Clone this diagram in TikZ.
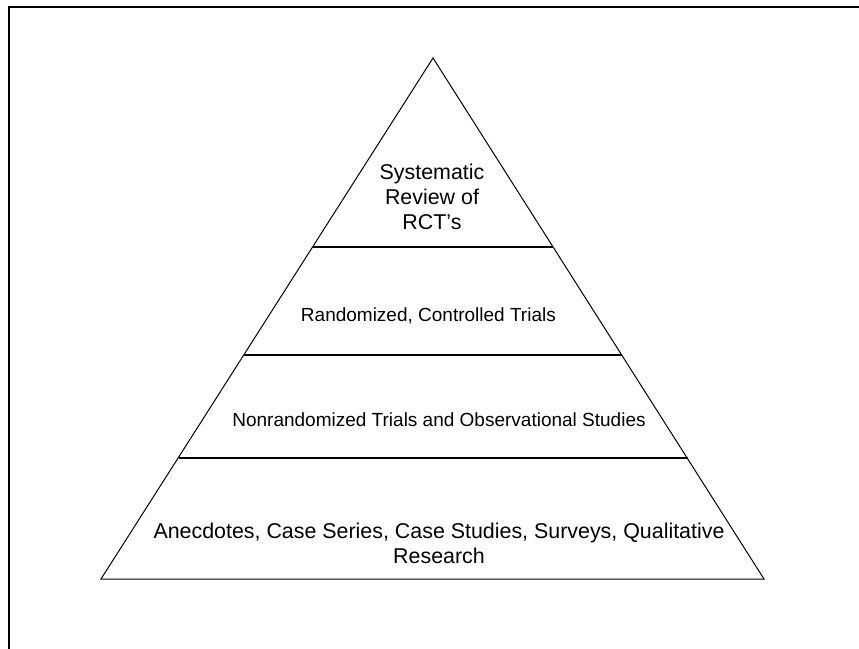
\documentclass[tikz,border=0pt]{standalone}
\usepackage{fontspec}
\setmainfont{Liberation Sans}
\begin{document}
\begin{tikzpicture}[x=1pt,y=-1pt,
  tierlabel/.style={align=center,anchor=base,inner sep=0pt},
  bigtext/.style={font=\fontsize{21.4}{24.8}\selectfont},
  smalltext/.style={font=\fontsize{19}{22}\selectfont}]
  % page, frame runs off at right and bottom
  \clip (0,0) rectangle (859,648);
  \draw[line width=2pt] (9,6.7) rectangle (900,700);

  % pyramid outline
  \coordinate (apex) at (433,58);
  \coordinate (bl) at (101,579);
  \coordinate (br) at (764,579);
  \draw[line width=1pt] (apex) -- (br) -- (bl) -- cycle;

  % tier boundaries
  \draw[line width=1.1pt] (312.7,247) -- (553.3,247);
  \draw[line width=1.1pt] (244,355) -- (622,355);
  \draw[line width=1.1pt] (178.5,458) -- (687.5,458);

  % tier labels, top to bottom (base = baseline of last line)
  \node[tierlabel,bigtext] (srev) at (432,229) {Systematic\\Review of\\RCT's};
  \node[tierlabel,smalltext] (rct) at (428.4,321.7) {Randomized, Controlled Trials};
  \node[tierlabel,smalltext] (nonrct) at (439,426) {Nonrandomized Trials and Observational Studies};
  \node[tierlabel,bigtext] (anec) at (439,563.3) {Anecdotes, Case Series, Case Studies, Surveys, Qualitative\\Research};
\end{tikzpicture}
\end{document}
